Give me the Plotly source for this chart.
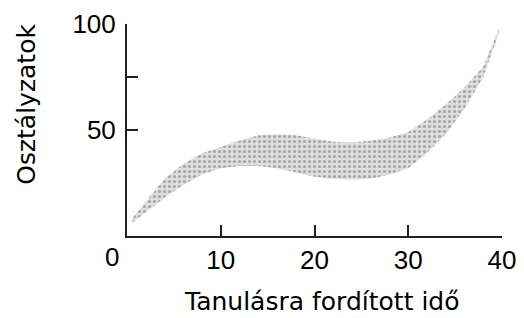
import plotly.graph_objects as go

# Band data
x_vals = [0.5, 2, 4, 6, 8, 10, 12, 14, 16, 18, 20, 22, 24, 26, 28, 30, 32, 34, 36, 38, 39.7]
lower = [6, 11, 18, 24, 29, 32, 33, 33, 32, 30, 28, 27, 26.5, 27, 29, 32, 39, 48, 60, 75, 96]
upper = [8, 16, 27, 34, 39, 42, 45, 47.5, 48, 47.5, 46, 44.5, 44, 45, 46.5, 49, 55, 62, 70, 80, 98]

x_ticks = [10, 20, 30, 40]
x_ticklabels = ["10", "20", "30", "40"]
y_ticks = [50, 75, 100]
y_ticklabels = ["50", "", "100"]

x_title = "Tanulásra fordított idő"
y_title = "Osztályzatok"

tick_font = dict(family="Liberation Sans, Arial, sans-serif", size=26, color="#000")
title_font = dict(family="DejaVu Sans, sans-serif", size=25, color="#000")

fig = go.Figure()
fig.add_trace(go.Scatter(x=x_vals, y=lower, mode="lines", line=dict(width=0, color="rgba(0,0,0,0)"),
                         showlegend=False, hoverinfo="skip"))
fig.add_trace(go.Scatter(x=x_vals, y=upper, mode="lines", line=dict(width=0, color="rgba(0,0,0,0)"),
                         fill="tonexty", fillcolor="#dedede",
                         fillpattern=dict(shape=".", fgcolor="#707070", bgcolor="#dedede", size=5, solidity=0.33),
                         showlegend=False, hoverinfo="skip"))

fig.update_layout(
    width=524, height=318,
    margin=dict(l=127, r=22, t=24, b=82, autoexpand=False),
    paper_bgcolor="white", plot_bgcolor="white",
    showlegend=False,
    xaxis=dict(range=[0, 40], tickvals=x_ticks, ticktext=x_ticklabels, ticks="inside", ticklen=11,
               tickwidth=2, tickcolor="#222", showline=True, linecolor="#222", linewidth=2,
               showgrid=False, zeroline=False, tickfont=tick_font, ticklabelstandoff=0,
               automargin=False),
    yaxis=dict(range=[0, 100], tickvals=y_ticks, ticktext=y_ticklabels, ticks="inside", ticklen=11,
               tickwidth=2, tickcolor="#222", showline=True, linecolor="#222", linewidth=2,
               showgrid=False, zeroline=False, tickfont=tick_font, ticklabelstandoff=4,
               automargin=False),
    annotations=[
        dict(text="0", x=0, y=-0.099, xref="x", yref="paper", xshift=-15, showarrow=False,
             xanchor="center", yanchor="middle", font=tick_font),
        dict(text=x_title, x=0.52, y=-0.311, xref="paper", yref="paper", showarrow=False,
             xanchor="center", yanchor="middle", font=title_font),
        dict(text=y_title, x=-0.267, y=0.623, xref="paper", yref="paper", showarrow=False,
             xanchor="center", yanchor="middle", textangle=-90, font=title_font),
    ],
)

fig.write_html("out.html", config={"displayModeBar": False},
               post_script="document.body.style.margin='0';document.body.style.overflow='hidden';")
